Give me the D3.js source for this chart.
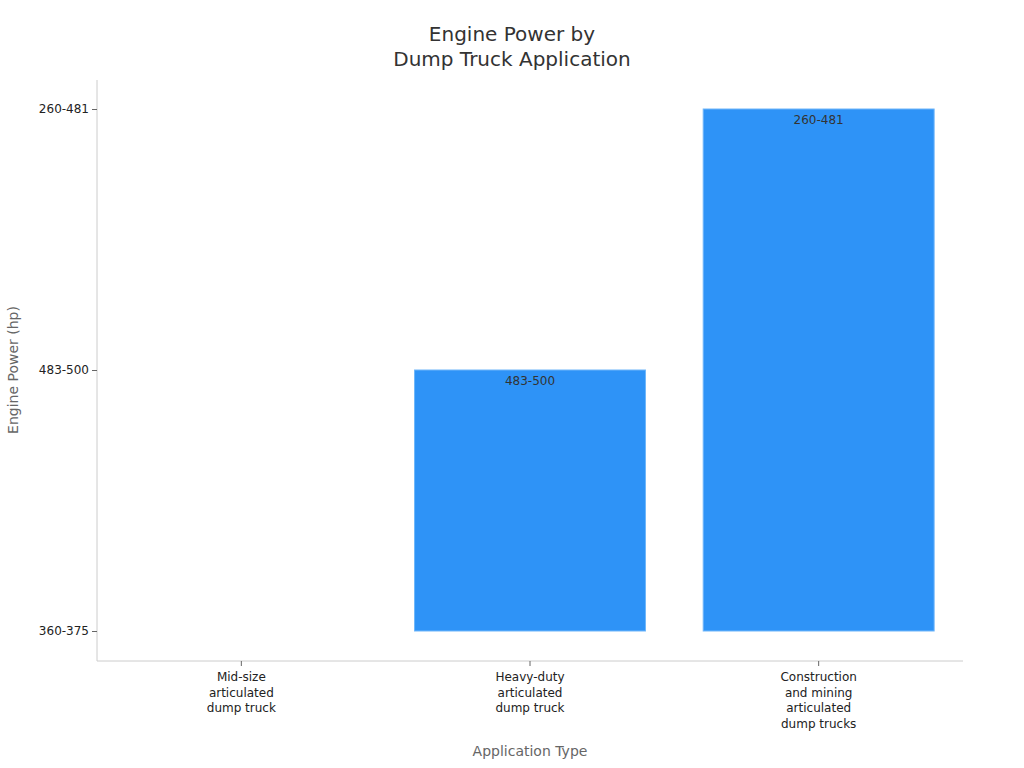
<!DOCTYPE html>
<html>
<head>
<meta charset="utf-8">
<script src="https://cdn.jsdelivr.net/npm/d3@7"></script>
<style>
  body { margin: 0; background: #fff; }
  svg { font-family: "DejaVu Sans", sans-serif; }
</style>
</head>
<body>
<svg id="chart" width="1024" height="768"></svg>
<script>
const categories = [
  ['Mid-size', 'articulated', 'dump truck'],
  ['Heavy-duty', 'articulated', 'dump truck'],
  ['Construction', 'and mining', 'articulated', 'dump trucks']
];
const powerLevels = ['360-375', '483-500', '260-481'];
const values = ['360-375', '483-500', '260-481'];

const svg = d3.select('#chart');
const plotLeft = 97, plotRight = 963, plotTop = 80, plotBottom = 661;

const x = d3.scaleBand().domain(d3.range(categories.length)).range([plotLeft, plotRight]).paddingInner(0.2).paddingOuter(0.1);
const y = d3.scalePoint().domain(powerLevels).range([631, 109]);

// title
const title = svg.append('text').attr('text-anchor', 'middle').attr('fill', '#333').attr('font-size', 20);
title.append('tspan').attr('x', 512).attr('y', 41).text('Engine Power by');
title.append('tspan').attr('x', 512).attr('y', 66).text('Dump Truck Application');

// bars
svg.append('g').selectAll('rect').data(values).enter().append('rect')
  .attr('x', (d, i) => x(i))
  .attr('width', x.bandwidth())
  .attr('y', d => y(d))
  .attr('height', d => y(powerLevels[0]) - y(d))
  .attr('fill', '#2e93f7')
  .attr('stroke', '#6fb6fa')
  .attr('stroke-width', 1);

svg.append('g').selectAll('text').data(values).enter()
  .filter(d => d !== powerLevels[0])
  .append('text')
  .attr('x', d => x(values.indexOf(d)) + x.bandwidth() / 2)
  .attr('y', d => y(d) + 15)
  .attr('text-anchor', 'middle')
  .attr('font-size', 12)
  .attr('fill', '#333')
  .text(d => d);

// y axis
const yAxis = svg.append('g').attr('transform', `translate(${plotLeft},0)`)
  .call(d3.axisLeft(y).tickSize(5).tickPadding(3))
  .attr('font-family', null).attr('font-size', 12);
yAxis.select('.domain').attr('d', `M0,${plotTop}V${plotBottom}`).attr('stroke', '#ccc');
yAxis.selectAll('.tick line').attr('stroke', '#666');
yAxis.selectAll('.tick text').attr('fill', '#222');

// x axis
const xAxis = svg.append('g').attr('transform', `translate(0,${plotBottom})`)
  .call(d3.axisBottom(x).tickSize(5).tickFormat(''))
  .attr('font-family', null).attr('font-size', 12);
xAxis.select('.domain').attr('d', `M${plotLeft},0H${plotRight}`).attr('stroke', '#ccc');
xAxis.selectAll('.tick line').attr('stroke', '#666');
xAxis.selectAll('.tick').each(function(d) {
  const t = d3.select(this).append('text').attr('text-anchor', 'middle').attr('fill', '#222');
  categories[d].forEach((line, k) => {
    t.append('tspan').attr('x', 0).attr('y', 20 + k * 15.5).text(line);
  });
});

// axis titles
svg.append('text').attr('x', 530).attr('y', 756).attr('text-anchor', 'middle')
  .attr('font-size', 14).attr('fill', '#666').text('Application Type');
svg.append('text').attr('transform', 'translate(18,370) rotate(-90)').attr('text-anchor', 'middle')
  .attr('font-size', 14).attr('fill', '#666').text('Engine Power (hp)');
</script>
</body>
</html>
